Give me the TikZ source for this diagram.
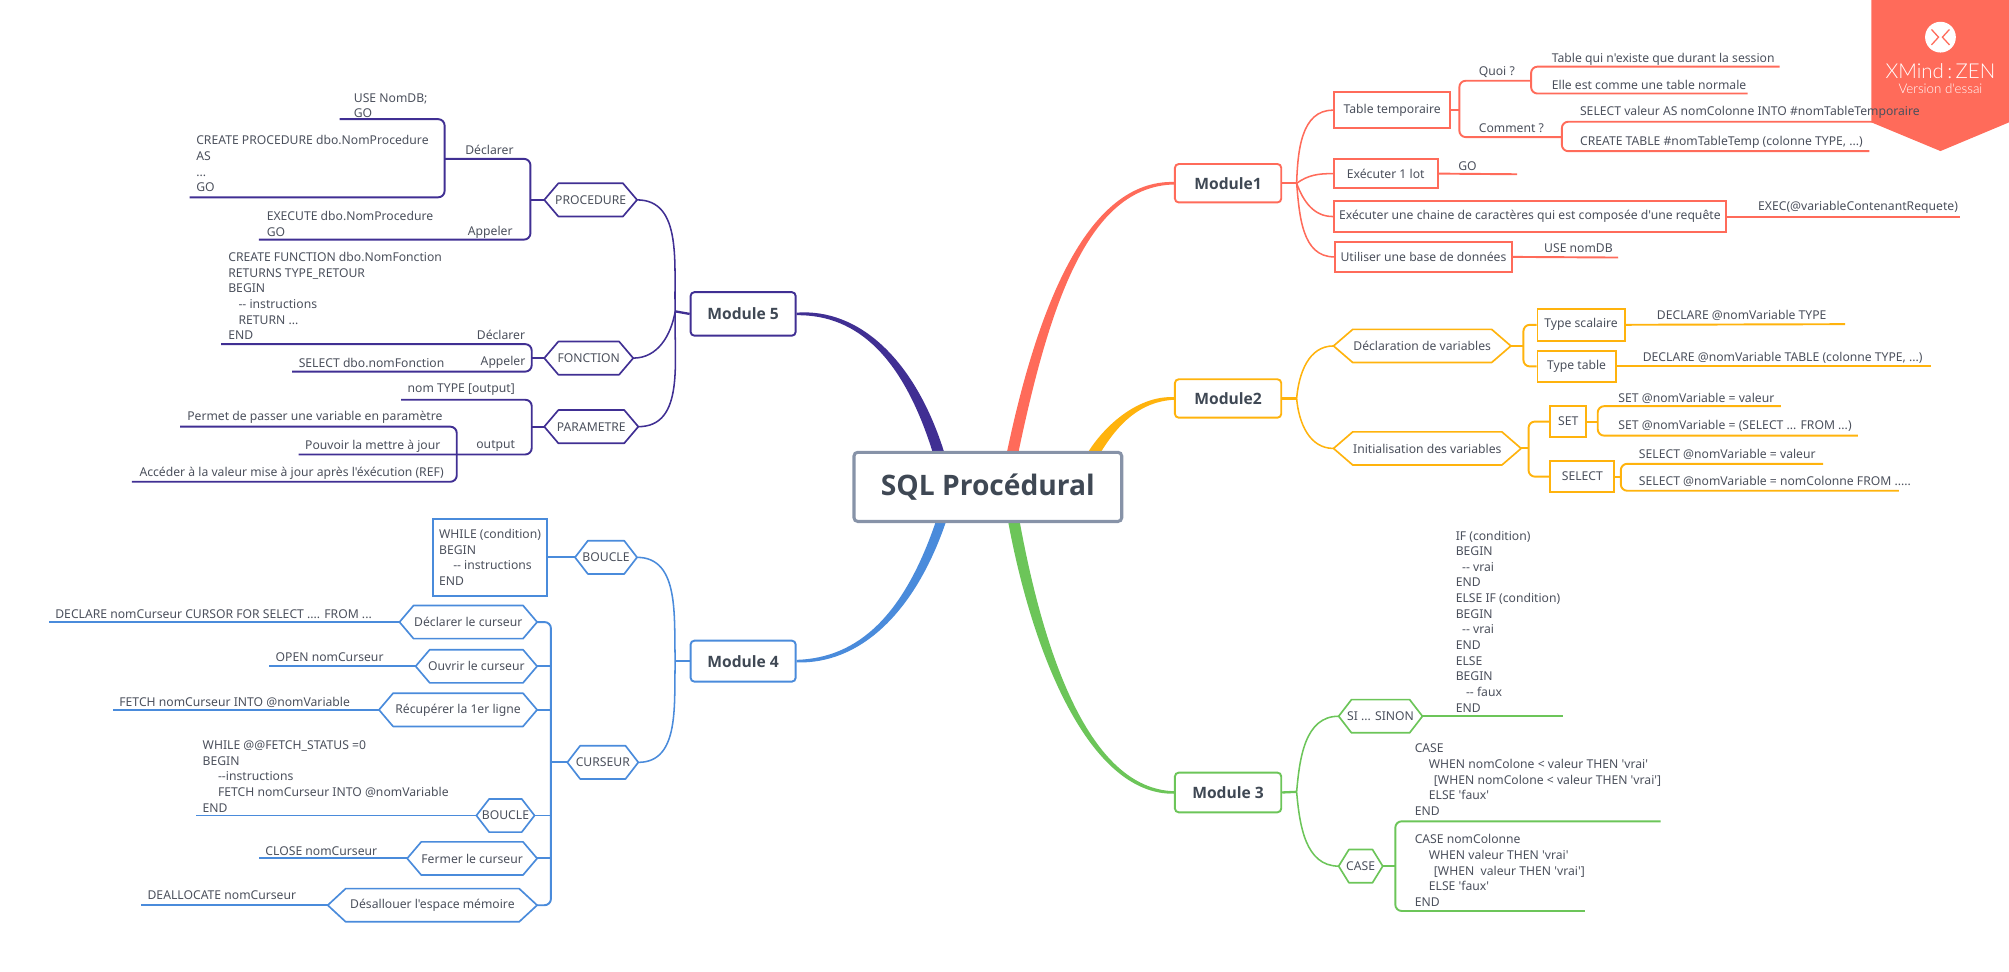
\documentclass[tikz,border=0pt]{standalone}
\usepackage{fontspec}
\setmainfont{Noto Sans}[Ligatures=TeXOff]
\newfontfamily\ribbonfont{Lato Light}
\newfontfamily\headfont{Open Sans}
\usetikzlibrary{calc,backgrounds}
\definecolor{cRed}{HTML}{FF6B5A}
\definecolor{cYel}{HTML}{FFB30D}
\definecolor{cGrn}{HTML}{6CC559}
\definecolor{cBlu}{HTML}{4A8BDB}
\definecolor{cPur}{HTML}{402F93}
\definecolor{cInk}{HTML}{4B505C}
\definecolor{cHead}{HTML}{3F4854}
\definecolor{cRoot}{HTML}{8793A8}
\tikzset{
  x=1pt,y=-1pt,
  lbl/.style={inner sep=0pt,anchor=west,align=left,text=cInk,font=\fontsize{9.5}{12.2}\selectfont},
  modbox/.style={draw=#1,line width=1.5pt,rounded corners=3pt,fill=white,inner sep=0pt,text=cHead,font=\headfont\fontsize{12.2}{14}\selectfont\bfseries},
  subbox/.style={draw=#1,line width=1.5pt,inner sep=0pt,align=left,text=cInk,font=\fontsize{9.5}{12.2}\selectfont},
  hexbox/.style={inner sep=0pt,text=cInk,font=\fontsize{9.5}{12.2}\selectfont},
  wire/.style={draw=#1,line width=1.5pt,rounded corners=5pt},
  curve/.style={draw=#1,line width=1.2pt},
}
\newcommand{\boxat}[7]{\node (#2) [#1,minimum width={(#4-#3)*1pt},minimum height={(#6-#5)*1pt}] at ({(#3+#4)/2},{(#5+#6)/2}) {#7};}
\newcommand{\hexat}[7]{% colour,name,x1,x2,yc,inset,text
  \node (#2) [hexbox,minimum width={(#4-#3)*1pt},minimum height=25.5pt] at ({(#3+#4)/2},#5) {#7};
  \draw[#1,line width=1.3pt,line join=round] (#2.west) -- ($(#2.north west)+(#6,0)$) -- ($(#2.north east)+(-#6,0)$) -- (#2.east) -- ($(#2.south east)+(-#6,0)$) -- ($(#2.south west)+(#6,0)$) -- cycle;}
\newcommand{\lab}[4]{\node (#1) [lbl] at (#2,#3) {#4};}
\newcommand{\taper}[7]{%
  \fill[#1] ($(#2)+(#6,0)$) .. controls ($(#3)+(#6,0)$) and ($(#4)+(0,2.5*#7)$) .. ($(#5)+(0,#7)$) -- ($(#5)-(0,#7)$) .. controls ($(#4)-(0,2.5*#7)$) and ($(#3)-(#6,0)$) .. ($(#2)-(#6,0)$) -- cycle;}
\newcommand{\brk}[4]{\draw[wire=#1] (#2) -- (#2 -| #4) -- (#3 -| #4) -- (#3);}
\begin{document}
\begin{tikzpicture}
\useasboundingbox (0,0) rectangle (1568,758.6);
% root and modules
\node (root) [draw=cRoot,line width=2.4pt,rounded corners=3pt,fill=white,minimum width=209pt,minimum height=54pt,inner sep=0pt,text=cHead,font=\headfont\fontsize{22}{26}\selectfont\bfseries] at (771,380) {SQL Procédural};
\boxat{modbox=cRed}{m1}{917}{1000}{128}{158}{Module1}
\boxat{modbox=cYel}{m2}{917}{1000}{296}{326}{Module2}
\boxat{modbox=cGrn}{m3}{917}{1000}{603}{634}{Module 3}
\boxat{modbox=cBlu}{m4}{539}{621}{500}{532}{Module 4}
\boxat{modbox=cPur}{m5}{539}{621}{228}{262}{Module 5}
% ---- Module 1
\boxat{subbox=cRed}{tt}{1041}{1132}{72}{100}{Table temporaire}
\boxat{subbox=cRed}{e1}{1041}{1122}{124}{147}{Exécuter 1 lot}
\boxat{subbox=cRed}{ec}{1041}{1347}{157}{181}{Exécuter une chaine de caractères qui est composée d'une requête}
\boxat{subbox=cRed}{ub}{1042}{1180}{189}{212}{Utiliser une base de données}
\lab{quoi}{1154}{56}{Quoi ?}
\lab{comment}{1154}{100}{Comment ?}
\lab{tq}{1211}{46}{Table qui n'existe que durant la session}
\lab{ee}{1211}{66}{Elle est comme une table normale}
\lab{sv}{1233}{88}{SELECT valeur AS nomColonne INTO \#nomTableTemporaire}
\lab{ct}{1233}{111}{CREATE TABLE \#nomTableTemp (colonne TYPE, ...)}
\lab{go}{1138}{130}{GO}
\lab{exe}{1372}{162}{EXEC(@variableContenantRequete)}
\lab{use}{1205}{194}{USE nomDB}
% ---- Module 2
\hexat{cYel}{dv}{1041}{1179}{270}{15}{Déclaration de variables}
\hexat{cYel}{iv}{1041}{1187}{350}{15}{Initialisation des variables}
\boxat{subbox=cYel}{ts}{1200}{1268}{241}{266}{Type scalaire}
\boxat{subbox=cYel}{tb}{1200}{1261}{274}{298}{Type table}
\boxat{subbox=cYel}{st}{1210}{1238}{317}{341}{SET}
\boxat{subbox=cYel}{sl}{1210}{1260}{360}{384}{SELECT}
\lab{d1}{1293}{246}{DECLARE @nomVariable TYPE}
\lab{d2}{1282}{279}{DECLARE @nomVariable TABLE (colonne TYPE, ...)}
\lab{s1}{1263}{311}{SET @nomVariable = valeur}
\lab{s2}{1263}{332}{SET @nomVariable = (SELECT ... FROM ...)}
\lab{s3}{1279}{355}{SELECT @nomVariable = valeur}
\lab{s4}{1279}{376}{SELECT @nomVariable = nomColonne FROM .....}
% ---- Module 3
\hexat{cGrn}{si}{1045}{1110}{559}{10}{SI ... SINON}
\hexat{cGrn}{ca}{1045}{1079}{676}{8}{CASE}
\lab{ifb}{1136}{485}{IF (condition)\\BEGIN\\\hspace*{5pt}-- vrai\\END\\ELSE IF (condition)\\BEGIN\\\hspace*{5pt}-- vrai\\END\\ELSE\\BEGIN\\\hspace*{8pt}-- faux\\END}
\lab{c1}{1104}{608.5}{CASE\\\hspace*{11pt}WHEN nomColone < valeur THEN 'vrai'\\\hspace*{15pt}[WHEN nomColone < valeur THEN 'vrai']\\\hspace*{11pt}ELSE 'faux'\\END}
\lab{c2}{1104}{679.5}{CASE nomColonne\\\hspace*{11pt}WHEN valeur THEN 'vrai'\\\hspace*{15pt}[WHEN\ \ valeur THEN 'vrai']\\\hspace*{11pt}ELSE 'faux'\\END}
% ---- Module 5
\hexat{cPur}{pr}{425}{497}{156}{11}{PROCEDURE}
\hexat{cPur}{fn}{425}{494}{279.5}{11}{FONCTION}
\hexat{cPur}{pa}{425}{498}{333}{11}{PARAMETRE}
\lab{decl1}{363}{117}{Déclarer}
\lab{app1}{365}{181}{Appeler}
\lab{useb}{276}{82.5}{USE NomDB;\\GO}
\lab{cpr}{153}{127.7}{CREATE PROCEDURE dbo.NomProcedure\\AS\\...\\GO}
\lab{exb}{208}{174.7}{EXECUTE dbo.NomProcedure\\GO}
\lab{cfn}{178}{231}{CREATE FUNCTION dbo.NomFonction\\RETURNS TYPE\_RETOUR\\BEGIN\\\hspace*{8pt}-- instructions\\\hspace*{8pt}RETURN ...\\END}
\lab{decl2}{372}{261}{Déclarer}
\lab{app2}{375}{283}{Appeler}
\lab{sfn}{233}{283}{SELECT dbo.nomFonction}
\lab{nt}{318}{304}{nom TYPE [output]}
\lab{out}{371.6}{348}{output}
\lab{pm}{146}{326}{Permet de passer une variable en paramètre}
\lab{pv}{238}{348}{Pouvoir la mettre à jour}
\lab{ac}{108.7}{369.5}{Accéder à la valeur mise à jour après l'éxécution (REF)}
% ---- Module 4
\hexat{cBlu}{bo}{449}{497}{435}{10}{BOUCLE}
\hexat{cBlu}{cu}{443}{498}{595}{10}{CURSEUR}
\boxat{subbox=cBlu}{wh}{338}{427}{405}{465}{WHILE (condition)\\BEGIN\\\hspace*{11pt}-- instructions\\END}
\hexat{cBlu}{h1}{312}{419}{485.5}{11}{Déclarer le curseur}
\hexat{cBlu}{h2}{324.6}{419}{520}{11}{Ouvrir le curseur}
\hexat{cBlu}{h3}{296}{419}{554}{11}{Récupérer la 1er ligne}
\hexat{cBlu}{h4}{372}{417}{636.5}{10}{BOUCLE}
\hexat{cBlu}{h5}{318}{419}{670}{11}{Fermer le curseur}
\hexat{cBlu}{h6}{256}{419}{706.5}{14}{Désallouer l'espace mémoire}
\lab{l1}{43}{479}{DECLARE nomCurseur CURSOR FOR SELECT .... FROM ...}
\lab{l2}{215}{513}{OPEN nomCurseur}
\lab{l3}{93}{548}{FETCH nomCurseur INTO @nomVariable}
\lab{l4}{158}{606}{WHILE @@FETCH\_STATUS =0\\BEGIN\\\hspace*{12pt}--instructions\\\hspace*{12pt}FETCH nomCurseur INTO @nomVariable\\END}
\lab{l5}{207}{664}{CLOSE nomCurseur}
\lab{l6}{115}{699}{DEALLOCATE nomCurseur}
% free ends
\foreach \n/\px/\py in {xtq/1389/52,xee/1364/73,xsv/1503/95,xct/1459/118,xquoi/1195/63,xcom/1219/107,
  xgo/1184/136,xexe/1530/169,xuse/1263/201,jt/1139/86,jq/1195/63,jc/1219/107,
  xd1/1440/253,xd2/1507/286,xs1/1390/317,xs2/1450/340,xs3/1423/362,xs4/1482/383,js/1247/329,jl/1265/372,jd/1189/270,ji/1193/350,
  xsi/1220/559,xc1/1296/641,xc2/1237/711,jca/1089/676,
  xdc/347/124,xap/202/187,xus/265/93,xcp/148/154,jpr/414/156,jdc/347/124,
  xfd/172.6/268.6,xfa/228/290,jfn/415/279.5,
  xnt/313/312,xou/233/354.7,xpm/140.5/333,xac/103/376,jpa/415/333,jou/356.5/354.7,
  xl1/38/485.5,xl2/210/520,xl3/88/554,xl4/153/636.5,xl5/202/670,xl6/110/706.5,jcu/430/595,
  j1/1012/143,j2/1012/311,j3/1012/618,j4/527/516,j5/527/243}
  {\coordinate (\n) at (\px,\py);}
\begin{scope}[on background layer]
% main branches
\coordinate (s1) at ($(root.north)+(19,3)$);
\coordinate (s2) at ($(root.north)+(82,3)$);
\coordinate (s3) at ($(root.south)+(20,-3)$);
\coordinate (s4) at ($(root.south)+(-36,-3)$);
\coordinate (s5) at ($(root.north)+(-38,3)$);
\coordinate (c11) at (815,235); \coordinate (c12) at (850,143);
\coordinate (c21) at (868,330); \coordinate (c22) at (890,311);
\coordinate (c31) at (810,510); \coordinate (c32) at (850,618);
\coordinate (c41) at (710,480); \coordinate (c42) at (670,516);
\coordinate (c51) at (710,280); \coordinate (c52) at (670,243);
\taper{cRed}{s1}{c11}{c12}{m1.west}{-4.5}{-1}
\taper{cYel}{s2}{c21}{c22}{m2.west}{-5}{-1}
\taper{cGrn}{s3}{c31}{c32}{m3.west}{-4.5}{1}
\taper{cBlu}{s4}{c41}{c42}{m4.east}{4}{1}
\taper{cPur}{s5}{c51}{c52}{m5.east}{4.5}{-1}
% module 1
\draw[curve=cRed,line width=1.8pt] (m1.east) -- (j1);
\draw[curve=cRed] (j1) to[out=88,in=180] (tt.west);
\draw[curve=cRed] (j1) to[out=35,in=180] (e1.west);
\draw[curve=cRed] (j1) to[out=-70,in=180] (ec.west);
\draw[curve=cRed] (j1) to[out=-85,in=180] (ub.west);
\draw[wire=cRed,line width=1.8pt] (tt.east) -- (jt);
\brk{cRed}{xquoi}{xcom}{jt}
\brk{cRed}{xtq}{xee}{jq}
\brk{cRed}{xsv}{xct}{jc}
\draw[wire=cRed] (e1.east) -- (xgo);
\draw[wire=cRed] (ec.east) -- (xexe);
\draw[wire=cRed] (ub.east) -- (xuse);
% module 2
\draw[curve=cYel,line width=1.8pt] (m2.east) -- (j2);
\draw[curve=cYel] (j2) to[out=85,in=180] (dv.west);
\draw[curve=cYel] (j2) to[out=-85,in=180] (iv.west);
\draw[wire=cYel] (dv.east) -- (jd);
\draw[wire=cYel] (ts.west) -- (ts.west -| jd) -- (tb.west -| jd) -- (tb.west);
\draw[wire=cYel] (iv.east) -- (ji);
\draw[wire=cYel] (st.west) -- (st.west -| ji) -- (sl.west -| ji) -- (sl.west);
\draw[wire=cYel] (ts.east) -- (xd1);
\draw[wire=cYel] (tb.east) -- (xd2);
\draw[wire=cYel] (st.east) -- (js);
\draw[wire=cYel] (sl.east) -- (jl);
\brk{cYel}{xs1}{xs2}{js}
\brk{cYel}{xs3}{xs4}{jl}
% module 3
\draw[curve=cGrn,line width=1.8pt] (m3.east) -- (j3);
\draw[curve=cGrn] (j3) to[out=85,in=180] (si.west);
\draw[curve=cGrn] (j3) to[out=-85,in=180] (ca.west);
\draw[wire=cGrn] (si.east) -- (xsi);
\draw[wire=cGrn] (ca.east) -- (jca);
\brk{cGrn}{xc1}{xc2}{jca}
% module 5
\draw[curve=cPur,line width=1.8pt] (m5.west) -- (j5);
\draw[curve=cPur] (j5) to[out=92,in=0] (pr.east);
\draw[curve=cPur] (j5) to[out=-100,in=0] (fn.east);
\draw[curve=cPur] (j5) to[out=-92,in=0] (pa.east);
\draw[wire=cPur] (pr.west) -- (jpr);
\brk{cPur}{xdc}{xap}{jpr}
\brk{cPur}{xus}{xcp}{jdc}
\draw[wire=cPur] (fn.west) -- (jfn);
\brk{cPur}{xfd}{xfa}{jfn}
\draw[wire=cPur] (pa.west) -- (jpa);
\brk{cPur}{xnt}{xou}{jpa}
\brk{cPur}{xpm}{xac}{jou}
% module 4
\draw[curve=cBlu,line width=1.8pt] (m4.west) -- (j4);
\draw[curve=cBlu] (j4) to[out=92,in=0] (bo.east);
\draw[curve=cBlu] (j4) to[out=-92,in=0] (cu.east);
\draw[wire=cBlu] (bo.west) -- (wh.east);
\draw[wire=cBlu] (cu.west) -- (jcu);
\draw[wire=cBlu] (h1.east) -- (h1.east -| jcu) -- (h6.east -| jcu) -- (h6.east);
\draw[wire=cBlu] (h2.east) -- (h2.east -| jcu);
\draw[wire=cBlu] (h3.east) -- (h3.east -| jcu);
\draw[wire=cBlu] (h4.east) -- (h4.east -| jcu);
\draw[wire=cBlu] (h5.east) -- (h5.east -| jcu);
\draw[wire=cBlu] (h1.west) -- (xl1);
\draw[wire=cBlu] (h2.west) -- (xl2);
\draw[wire=cBlu] (h3.west) -- (xl3);
\draw[wire=cBlu] (h4.west) -- (xl4);
\draw[wire=cBlu] (h5.west) -- (xl5);
\draw[wire=cBlu] (h6.west) -- (xl6);
% ribbon above the connectors, below the labels
\fill[cRed] (1460.6,0) -- (1568,0) -- (1568,95.5) -- (1514.5,117.9) -- (1460.6,95.5) -- cycle;
\node (logo) [circle,fill=white,minimum size=24pt,inner sep=0pt] at (1514.5,29) {};
\draw[cRed,line width=1pt] ($(logo)+(-7,-6)$) -- ($(logo)+(-1.5,0)$) -- ($(logo)+(-7,6)$) ($(logo)+(7,-6)$) -- ($(logo)+(1.5,0)$) -- ($(logo)+(7,6)$);
\node (brand) [white,inner sep=0pt,font=\ribbonfont\fontsize{16}{18}\selectfont] at (1514.5,55.4) {XMind\,:\,ZEN};
\node (trial) [white,inner sep=0pt,font=\ribbonfont\fontsize{10.4}{12}\selectfont] at (1514.5,69.5) {Version d'essai};
\end{scope}
\end{tikzpicture}
\end{document}
